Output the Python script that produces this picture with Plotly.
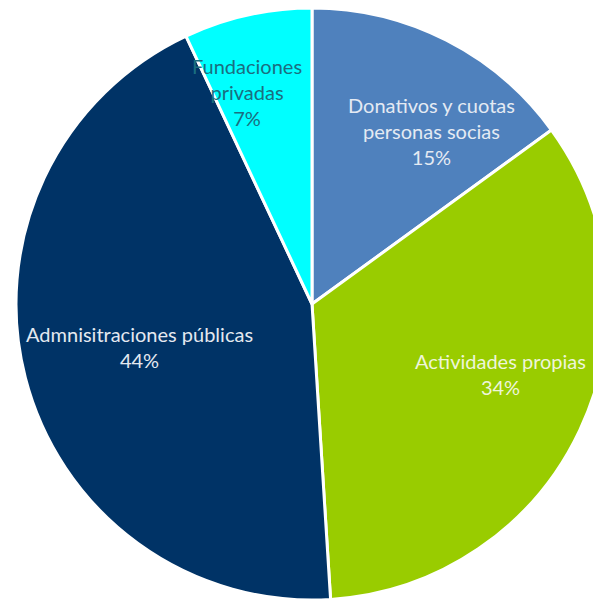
import math
import plotly.graph_objects as go

categories = ["Donativos y cuotas<br>personas socias", "Actividades propias",
              "Admnisitraciones públicas", "Fundaciones<br>privadas"]
values = [15, 34, 44, 7]
colors = ["#4F81BD", "#99CC00", "#003366", "#00FFFF"]
text_colors = ["#E4EAF3", "#EEF5DA", "#E4E9F0", "#1B6E80"]

W, H = 601, 592
dom_x = [8 / W, 600 / W]
dom_y = [0, 1]

fig = go.Figure(go.Pie(
    labels=categories,
    values=values,
    sort=False,
    direction="clockwise",
    rotation=0,
    marker=dict(colors=colors, line=dict(color="white", width=3)),
    textinfo="none",
    showlegend=False,
    hoverinfo="label+percent",
    domain=dict(x=dom_x, y=dom_y),
))

# label placement (style): angle shift in degrees and radial fraction per slice
label_style = [(7.5, 0.71), (-5.0, 0.68), (0.5, 0.60), (-4.5, 0.75)]

total = sum(values)
cx = (dom_x[0] + dom_x[1]) / 2 * W
cy = H - (dom_y[0] + dom_y[1]) / 2 * H
r = min((dom_x[1] - dom_x[0]) * W, (dom_y[1] - dom_y[0]) * H) / 2
cum = 0
for lab, v, col, (da, fr) in zip(categories, values, text_colors, label_style):
    mid = (cum + v / 2) / total * 360 + da
    cum += v
    a = math.radians(mid)
    px = cx + fr * r * math.sin(a)
    py = cy - fr * r * math.cos(a)
    fig.add_annotation(
        x=px / W, y=1 - py / H, xref="paper", yref="paper",
        xanchor="center", yanchor="middle",
        text=f"{lab}<br>{round(v / total * 100)}%",
        showarrow=False, align="center",
        font=dict(family="Lato", size=20, color=col),
    )

fig.update_layout(
    width=W, height=H,
    margin=dict(l=0, r=0, t=0, b=0),
    paper_bgcolor="white",
)

fig.write_html("out.html")
